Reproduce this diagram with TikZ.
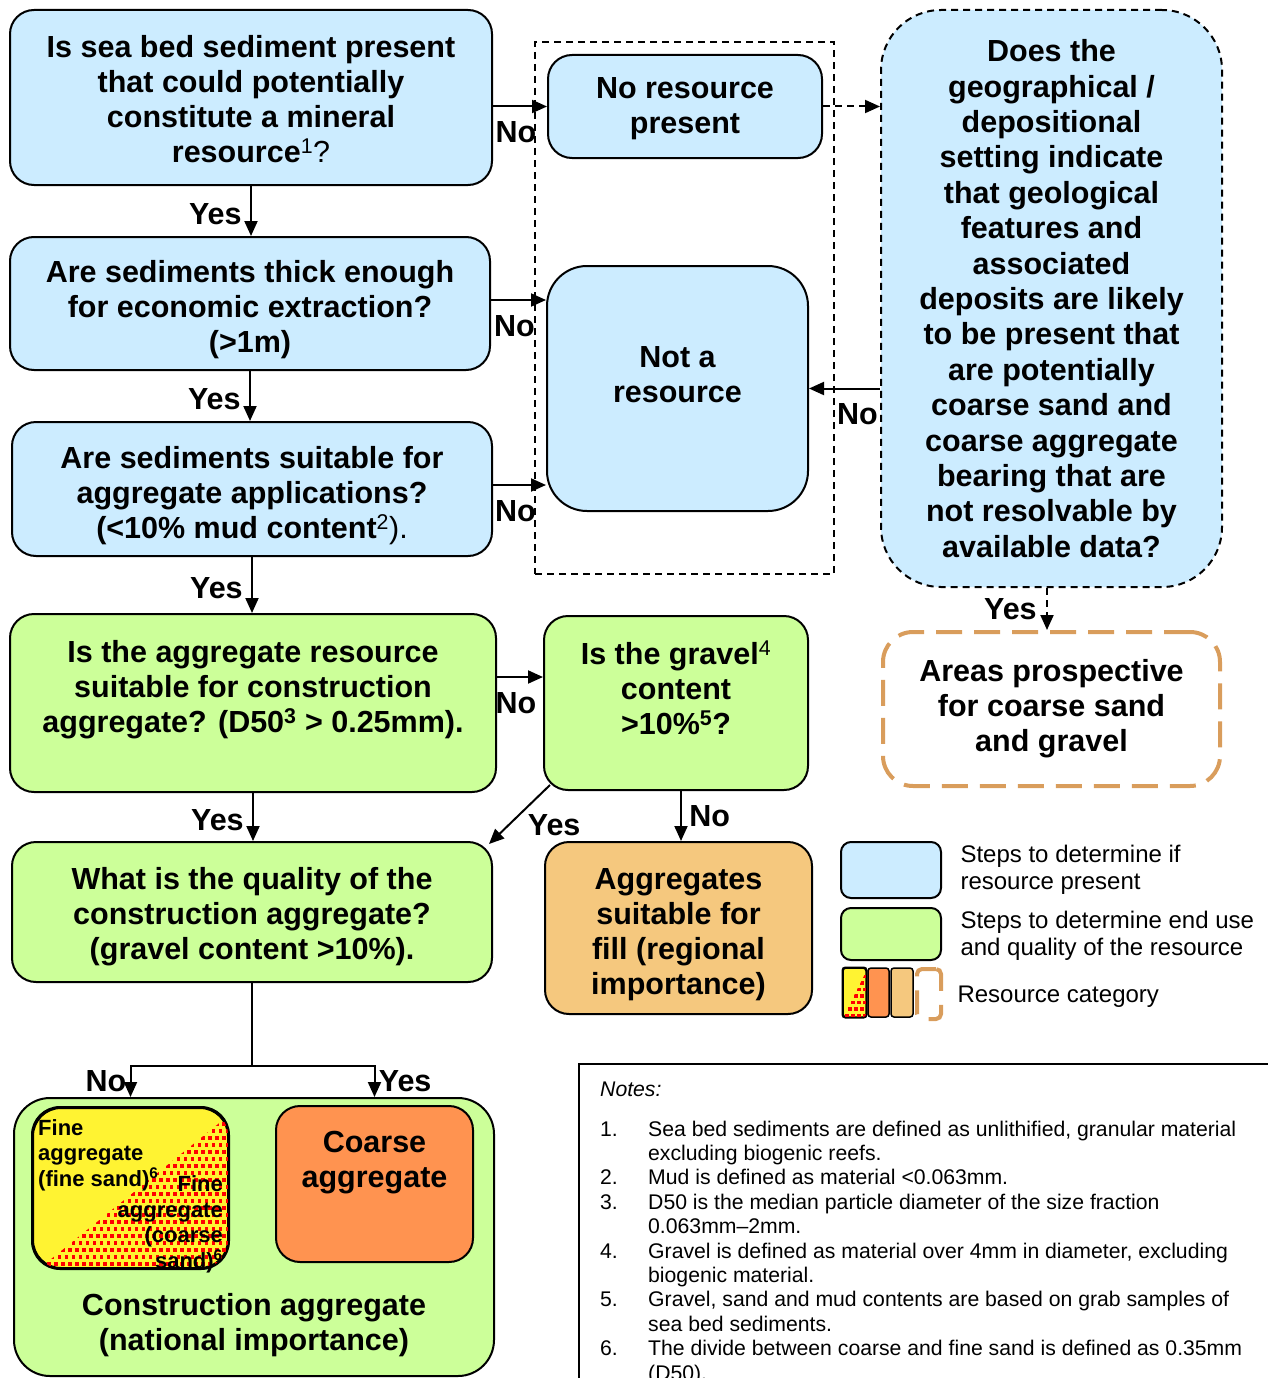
\documentclass[tikz,border=0pt]{standalone}
\usepackage{fontspec}
\setmainfont{Liberation Sans}
\usetikzlibrary{arrows.meta,positioning,calc}

\definecolor{stepblue}{RGB}{204,236,255}
\definecolor{stepgreen}{RGB}{204,255,153}
\definecolor{filltan}{RGB}{245,200,126}
\definecolor{coarseorange}{RGB}{255,147,80}
\definecolor{sandyellow}{RGB}{255,243,50}
\definecolor{prospecttan}{RGB}{217,157,92}

\newcommand{\flowfont}{\fontsize{30.5}{35}\selectfont\bfseries}
\newcommand{\smallflow}{\fontsize{22}{25.5}\selectfont\bfseries}
\newcommand{\keytextfont}{\fontsize{24}{27.5}\selectfont}
\newcommand{\notestextfont}{\fontsize{21.2}{24.4}\selectfont}

\tikzset{
  box/.style={draw, line width=2pt, rounded corners=24pt, inner sep=0pt, align=center},
  bluebox/.style={box, fill=stepblue},
  greenbox/.style={box, fill=stepgreen},
  boxtext/.style={align=center},
  arr/.style={line width=2pt, -{Triangle[length=15pt,width=13pt]}},
  dashline/.style={dash pattern=on 7pt off 5pt},
  yeslbl/.style={left=5pt, yshift=-3pt},
  nolbl/.style={below=11pt, xshift=-4pt},
  keytext/.style={font=\keytextfont, align=left, anchor=west},
}

\begin{document}
\begin{tikzpicture}[x=1pt, y=-1pt, font=\flowfont]
\useasboundingbox (0,0) rectangle (1268,1378);

% left column
\node[bluebox, minimum width=482pt, minimum height=175pt] (sediment) at (251,97.5) {};
\node[boxtext] (sedimenttxt) at (251,99.5) {Is sea bed sediment present\\that could potentially\\constitute a mineral\\resource{\mdseries\textsuperscript{1}?}};
\node[bluebox, minimum width=480pt, minimum height=133pt] (thick) at (250,303.5) {};
\node[boxtext] (thicktxt) at (250,310) {Are sediments thick enough\\for economic extraction?\\(>1m)};
\node[bluebox, minimum width=480pt, minimum height=134pt] (suitable) at (252,489) {};
\node[boxtext] (suitabletxt) at (252,496) {Are sediments suitable for\\aggregate applications?\\(<10\% mud content{\mdseries\textsuperscript{2}).}};
\node[greenbox, minimum width=486pt, minimum height=178pt] (construct) at (253,703) {};
\node[boxtext] (constructtxt) at (253,690) {Is the aggregate resource\\suitable for construction\\aggregate? (D50\textsuperscript{3} > 0.25mm).};
\node[greenbox, minimum width=480pt, minimum height=140pt] (quality) at (252,912) {};
\node[boxtext] (qualitytxt) at (252,917) {What is the quality of the\\construction aggregate?\\(gravel content >10\%).};

% bottom: national importance
\node[greenbox, rounded corners=36pt, minimum width=480pt, minimum height=278pt] (national) at (254,1237) {};
\node[boxtext] (nationaltxt) at (254,1325.5) {Construction aggregate\\(national importance)};
\node[box, fill=sandyellow, rounded corners=28pt, minimum width=195pt, minimum height=160pt] (fine) at (130.5,1188) {};
\begin{scope}
  \clip[rounded corners=28pt] (fine.north west) rectangle (fine.south east);
  \clip (40,1268) -- (228,1116) -- (228,1268) -- cycle;
  \foreach \r in {0,...,23}
    \foreach \c in {0,...,28}
      \fill[red] ({33+7*\c+3.5*mod(\r,2)},{1108+7*\r}) rectangle ++(3.5,3.5);
\end{scope}
\draw[line width=2pt, rounded corners=28pt] (fine.north west) rectangle (fine.south east);
\node[font=\smallflow, align=left, anchor=north west, inner sep=0pt] (finetxt) at (38,1119) {Fine\\aggregate\\(fine sand)\textsuperscript{6}};
\node[font=\smallflow, align=right, anchor=south east, inner sep=0pt] (coarsefinetxt) at (223,1273) {Fine\\aggregate\\(coarse\\sand)\textsuperscript{6}};
\node[box, fill=coarseorange, minimum width=197pt, minimum height=156pt] (coarse) at (374.5,1184) {};
\node[boxtext] (coarsetxt) at (374.5,1162.5) {Coarse\\aggregate};

% middle column
\node[bluebox, minimum width=274pt, minimum height=103pt] (nores) at (685,106.5) {};
\node[boxtext] (norestxt) at (685,109) {No resource\\present};
\node[bluebox, rounded corners=40pt, minimum width=261pt, minimum height=245pt] (notres) at (677.5,388.5) {};
\node[boxtext] (notrestxt) at (677.5,374.5) {Not a\\resource};
\node[draw, dashline, line width=1.5pt, minimum width=299pt, minimum height=532pt] (noframe) at (684.5,308) {};
\node[greenbox, minimum width=264pt, minimum height=174pt] (gravel) at (676,703) {};
\node[boxtext] (graveltxt) at (676,688) {Is the gravel{\mdseries\textsuperscript{4}}\\content\\>10\%\textsuperscript{5}?};
\node[box, fill=filltan, minimum width=267pt, minimum height=172pt] (fillagg) at (678.5,928) {};
\node[boxtext] (fillaggtxt) at (678.5,935) {Aggregates\\suitable for\\fill (regional\\importance)};

% right column
\node[bluebox, dashline, rounded corners=60pt, minimum width=341pt, minimum height=577pt, font=\fontsize{30.5}{35.4}\selectfont\bfseries] (setting) at (1051.5,298.5) {Does the\\geographical /\\depositional\\setting indicate\\that geological\\features and\\associated\\deposits are likely\\to be present that\\are potentially\\coarse sand and\\coarse aggregate\\bearing that are\\not resolvable by\\available data?};
\node[box, draw=prospecttan, line width=4pt, dash pattern=on 26pt off 12pt, fill=white, rounded corners=30pt, minimum width=337pt, minimum height=154pt] (prospect) at (1051.5,709) {Areas prospective\\for coarse sand\\and gravel};

% connectors
\draw[arr] (sediment.south) -- (sediment.south |- thick.north) node[midway, yeslbl] (yes1) {Yes};
\draw[arr] (thick.south) -- (thick.south |- suitable.north) node[midway, yeslbl] (yes2) {Yes};
\draw[arr] (suitable.south) -- (suitable.south |- construct.north) node[midway, yeslbl] (yes3) {Yes};
\draw[arr] (construct.south) -- (construct.south |- quality.north) node[midway, yeslbl] (yes4) {Yes};
\draw[arr] (sediment.east |- nores.west) -- (nores.west) node[midway, nolbl] (no1) {No};
\draw[arr] ([yshift=3.5pt]thick.east) -- ([yshift=3.5pt]thick.east -| notres.west) node[midway, nolbl] (no2) {No};
\draw[arr] ([yshift=4pt]suitable.east) -- ([yshift=4pt]suitable.east -| notres.west) node[midway, nolbl] (no3) {No};
\draw[arr] ([yshift=26pt]construct.east) -- ([yshift=26pt]construct.east -| gravel.west) node[midway, nolbl] (no4) {No};
\draw[arr] ([xshift=5pt]gravel.south) -- ([xshift=5pt]gravel.south |- fillagg.north) node[midway, right=4pt] (no5) {No};
\draw[arr] ([shift={(7pt,6pt)}]gravel.south west) -- ([shift={(-4pt,-3pt)}]quality.north east) node[midway, right, xshift=4pt, yshift=-11pt] (yes5) {Yes};
\draw[arr, dashline] (nores.east) -- (nores.east -| setting.west);
\draw[arr] (setting.west |- notres.east) -- (notres.east) node[midway, nolbl, xshift=17pt] (no6) {No};
\draw[arr, dashline] ([xshift=-4.5pt]setting.south) -- ([xshift=-4.5pt]setting.south |- prospect.north) node[midway, left=6pt] (yes6) {Yes};

\coordinate (split) at ($(quality.south)+(0,83)$);
\draw[line width=2pt] (quality.south) -- (split);
\draw[arr] (split) -| (fine.north |- national.north) node[pos=0.75, left] (no7) {No};
\draw[arr] (split) -| (coarse.north |- national.north) node[pos=0.75, right] (yes7) {Yes};

% legend
\node[bluebox, rounded corners=10pt, minimum width=100pt, minimum height=56pt] (keyblue) at (891,870) {};
\node[greenbox, rounded corners=10pt, minimum width=100pt, minimum height=52pt] (keygreen) at (891,934) {};
\node[box, line width=1.5pt, fill=sandyellow, rounded corners=3pt, minimum width=23pt, minimum height=49pt] (keyfine) at (854.5,992.5) {};
\begin{scope}
  \clip (843,1017) -- (866,972) -- (866,1017) -- cycle;
  \foreach \r in {0,...,7}
    \foreach \c in {0,...,4}
      \fill[red] ({842+6*\c+3*mod(\r,2)},{968+6.5*\r}) rectangle ++(3.5,3.5);
\end{scope}
\draw[line width=1.5pt, rounded corners=3pt] (keyfine.north west) rectangle (keyfine.south east);
\node[box, line width=1.5pt, fill=coarseorange, rounded corners=3pt, minimum width=21pt, minimum height=49pt] (keycoarse) at (878.5,992.5) {};
\node[box, line width=1.5pt, fill=filltan, rounded corners=3pt, minimum width=22pt, minimum height=49pt] (keyfill) at (902,992.5) {};
\node[draw=prospecttan, line width=4pt, dash pattern=on 24pt off 14pt, rounded corners=5pt, minimum width=24pt, minimum height=50pt, inner sep=0pt] (keyprospect) at (929,994) {};
\node[keytext, right=15pt of keyblue] (keybluetxt) {Steps to determine if\\resource present};
\node[keytext, right=15pt of keygreen, yshift=-2pt] (keygreentxt) {Steps to determine end use\\and quality of the resource};
\node[keytext, right=11pt of keyprospect, yshift=-3pt] (keycattxt) {Resource category};

% notes
\draw[line width=2pt] (579,1378) |- (1268,1064);
\node[anchor=base west, inner sep=0pt, font=\notestextfont\itshape] (noteshead) at (600,1096) {Notes:};
\node[anchor=base west, inner sep=0pt, font=\notestextfont] (noteslist) at (600,1136) {%
\begin{tabular}[t]{@{}p{48pt}@{}l@{}}
1. & Sea bed sediments are defined as unlithified, granular material\\
   & excluding biogenic reefs.\\
2. & Mud is defined as material <0.063mm.\\
3. & D50 is the median particle diameter of the size fraction\\
   & 0.063mm--2mm.\\
4. & Gravel is defined as material over 4mm in diameter, excluding\\
   & biogenic material.\\
5. & Gravel, sand and mud contents are based on grab samples of\\
   & sea bed sediments.\\
6. & The divide between coarse and fine sand is defined as 0.35mm\\
   & (D50).
\end{tabular}};
\end{tikzpicture}
\end{document}
